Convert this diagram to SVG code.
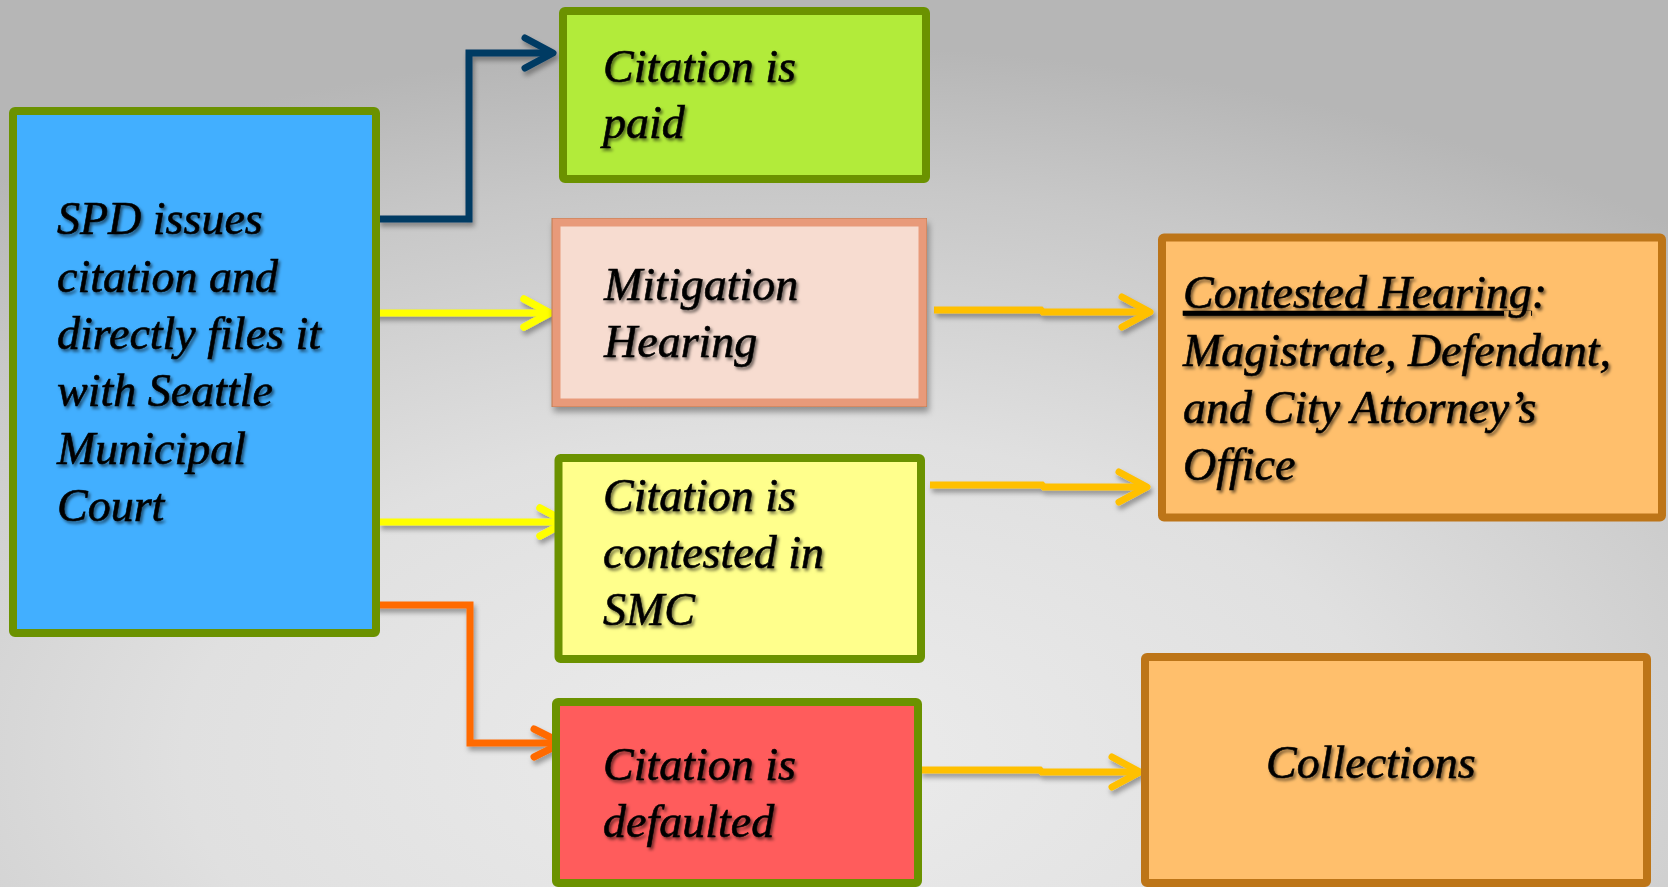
<svg xmlns="http://www.w3.org/2000/svg" width="1668" height="887" viewBox="0 0 1668 887">
<defs>
<radialGradient id="bg" cx="0.47" cy="0.85" r="0.8" fx="0.47" fy="0.85">
<stop offset="0" stop-color="#ececec"/>
<stop offset="0.45" stop-color="#e0e0e0"/>
<stop offset="0.8" stop-color="#c8c8c8"/>
<stop offset="1" stop-color="#b6b6b6"/>
</radialGradient>
<filter id="tshadow" x="-10%" y="-30%" width="120%" height="160%">
<feDropShadow dx="2" dy="2.5" stdDeviation="1.4" flood-color="#000" flood-opacity="0.55"/>
</filter>
<filter id="lshadow" x="-10%" y="-50%" width="120%" height="200%">
<feDropShadow dx="2" dy="4" stdDeviation="2.5" flood-color="#000" flood-opacity="0.35"/>
</filter>
<filter id="bshadow" x="-5%" y="-5%" width="115%" height="120%">
<feDropShadow dx="2" dy="5" stdDeviation="3" flood-color="#000" flood-opacity="0.35"/>
</filter>
<marker id="ah-blue" viewBox="-5 -20 40 40" refX="30" refY="0" markerWidth="40" markerHeight="40" markerUnits="userSpaceOnUse" orient="auto" overflow="visible">
<path d="M2,-15 L30,0 L2,15" fill="none" stroke="#003b64" stroke-width="7" stroke-linecap="round" stroke-linejoin="round"/>
</marker>
<marker id="ah-yellow" viewBox="-5 -20 40 40" refX="30" refY="0" markerWidth="40" markerHeight="40" markerUnits="userSpaceOnUse" orient="auto" overflow="visible">
<path d="M4,-14 L30,0 L4,14" fill="none" stroke="#ffff00" stroke-width="7.5" stroke-linecap="round" stroke-linejoin="round"/>
</marker>
<marker id="ah-orange" viewBox="-5 -20 40 40" refX="30" refY="0" markerWidth="40" markerHeight="40" markerUnits="userSpaceOnUse" orient="auto" overflow="visible">
<path d="M2,-14 L30,0 L2,14" fill="none" stroke="#ff6a00" stroke-width="7" stroke-linecap="round" stroke-linejoin="round"/>
</marker>
<marker id="ah-gold" viewBox="-5 -20 40 40" refX="30" refY="0" markerWidth="40" markerHeight="40" markerUnits="userSpaceOnUse" orient="auto" overflow="visible">
<path d="M2,-15 L30,0 L2,15" fill="none" stroke="#ffc000" stroke-width="7" stroke-linecap="round" stroke-linejoin="round"/>
</marker>
</defs>
<style>
.lbl { font-family: "Liberation Serif", "Times New Roman", serif; font-style: italic; font-size: 46px; fill: #000; stroke: #000; stroke-width: 0.6; filter: url(#tshadow); }
.gbox { stroke: #6b9200; stroke-width: 8; }
.obox { fill: #ffbf6c; stroke: #bd7518; stroke-width: 8; }
.conn { fill: none; stroke-width: 7; stroke-linejoin: miter; }
</style>
<rect width="1668" height="887" fill="url(#bg)"/>

<g id="connectors" filter="url(#lshadow)">
<path class="conn" d="M378,219 H469 V53 H553" stroke="#003b64" marker-end="url(#ah-blue)"/>
<path class="conn" d="M373,313 H550" stroke="#ffff00" marker-end="url(#ah-yellow)"/>
<path class="conn" d="M379,522 H566" stroke="#ffff00" marker-end="url(#ah-yellow)"/>
<path class="conn" d="M374,605 H470 V743 H562" stroke="#ff6a00" marker-end="url(#ah-orange)"/>
<path class="conn" d="M934,310 H1041 L1043,312 H1150" stroke="#ffc000" marker-end="url(#ah-gold)"/>
<path class="conn" d="M930,485 H1042 L1044,487 H1147" stroke="#ffc000" marker-end="url(#ah-gold)"/>
<path class="conn" d="M920,770 H1040 L1042,772 H1140" stroke="#ffc000" marker-end="url(#ah-gold)"/>
</g>

<g id="node-spd">
<rect class="gbox" x="13" y="111" width="363" height="522" rx="2" fill="#42afff"/>
<text class="lbl" x="57"><tspan x="57" y="234">SPD issues</tspan><tspan x="57" y="291.5">citation and</tspan><tspan x="57" y="349">directly files it</tspan><tspan x="57" y="406">with Seattle</tspan><tspan x="57" y="463.5">Municipal</tspan><tspan x="57" y="521">Court</tspan></text>
</g>

<g id="node-paid">
<rect class="gbox" x="563" y="11" width="363" height="168" rx="2" fill="#b2eb3a"/>
<text class="lbl"><tspan x="603" y="82">Citation is</tspan><tspan x="603" y="138">paid</tspan></text>
</g>

<g id="node-mitigation">
<rect x="551.5" y="218" width="375.5" height="189" fill="#c07a50" filter="url(#bshadow)"/>
<rect x="556.5" y="222.5" width="366" height="180" fill="#f7dcd0" stroke="#e89a7a" stroke-width="8"/>
<text class="lbl"><tspan x="604" y="300">Mitigation</tspan><tspan x="604" y="357">Hearing</tspan></text>
</g>

<g id="node-contested-smc">
<rect class="gbox" x="558.5" y="458" width="362.5" height="201" rx="2" fill="#ffff8c"/>
<text class="lbl"><tspan x="603" y="511">Citation is</tspan><tspan x="603" y="568">contested in</tspan><tspan x="603" y="625">SMC</tspan></text>
</g>

<g id="node-defaulted">
<rect class="gbox" x="556" y="702" width="362" height="181" rx="2" fill="#ff5c5c"/>
<text class="lbl"><tspan x="603" y="780">Citation is</tspan><tspan x="603" y="837">defaulted</tspan></text>
</g>

<g id="node-contested-hearing">
<rect class="obox" x="1162" y="237.5" width="500" height="280" rx="2"/>
<text class="lbl"><tspan x="1183" y="308" text-decoration="underline">Contested Hearing</tspan><tspan>:</tspan><tspan x="1183" y="366">Magistrate, Defendant,</tspan><tspan x="1183" y="423">and City Attorney’s</tspan><tspan x="1183" y="480">Office</tspan></text>
</g>

<g id="node-collections">
<rect class="obox" x="1145" y="657" width="502" height="226" rx="2"/>
<text class="lbl"><tspan x="1266" y="778">Collections</tspan></text>
</g>
</svg>
